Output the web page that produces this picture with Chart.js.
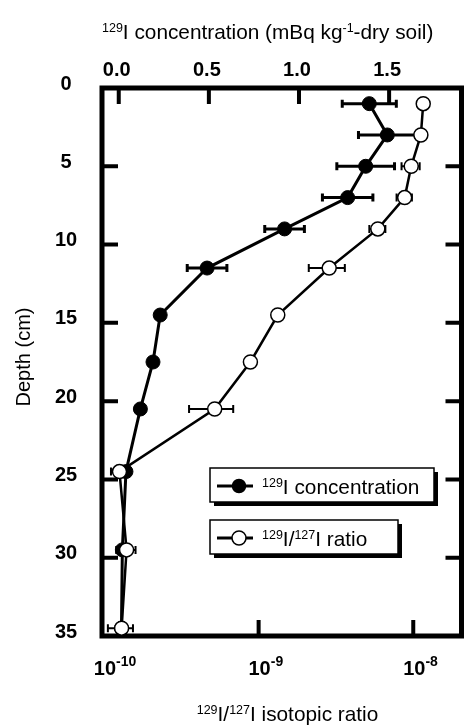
<!DOCTYPE html>
<html><head><meta charset="utf-8">
<script src="https://cdn.jsdelivr.net/npm/chart.js@4.4.0/dist/chart.umd.min.js"></script>
<style>html,body{margin:0;padding:0;background:#fff;}canvas{display:block;}</style>
</head><body>
<canvas id="c" width="470" height="725"></canvas>
<script>
// ---- data ----
const depth    = [1, 3, 5, 7, 9, 11.5, 14.5, 17.5, 20.5, 24.5, 29.5, 34.5];
const conc     = [1.39, 1.49, 1.37, 1.27, 0.92, 0.49, 0.23, 0.19, 0.12, 0.04, 0.02, 0.015];
const concErr  = [0.15, 0.16, 0.16, 0.14, 0.11, 0.11, 0.02, 0.02, 0.02, 0.02, 0.01, 0.01];
const ratio    = [1.16e-8, 1.12e-8, 9.7e-9, 8.8e-9, 5.9e-9, 2.86e-9, 1.33e-9, 8.85e-10, 5.2e-10, 1.26e-10, 1.4e-10, 1.3e-10];
const ratioErr = [0.8e-9, 0.8e-9, 1.3e-9, 1.0e-9, 0.7e-9, 0.75e-9, 0.08e-9, 0.06e-9, 1.65e-10, 0.15e-10, 0.2e-10, 0.24e-10];
const depthTicks = [0, 5, 10, 15, 20, 25, 30, 35];
const depthTickMarks = [5, 10, 15, 20, 25, 30];
const concTicks = [0, 0.5, 1.0, 1.5];
const concTickLabels = ['0.0', '0.5', '1.0', '1.5'];
const ratioTicks = [1e-10, 1e-9, 1e-8];
const ratioTickExps = ['-10', '-9', '-8'];
const topTitle = [{t:'129', sup:true}, {t:'I concentration (mBq kg'}, {t:'-1', sup:true}, {t:'-dry soil)'}];
const bottomTitle = [{t:'129', sup:true}, {t:'I/'}, {t:'127', sup:true}, {t:'I isotopic ratio'}];
const yTitle = 'Depth (cm)';
const legendConc = [{t:'129', sup:true}, {t:'I concentration'}];
const legendRatio = [{t:'129', sup:true}, {t:'I/'}, {t:'127', sup:true}, {t:'I ratio'}];

const FONT = '"Liberation Sans", Arial, sans-serif';

function drawRuns(ctx, runs, x, y, o) {
  const w8 = o.weight || 'normal';
  const mainF = `${w8} ${o.size}px ${FONT}`;
  const supF = `${w8} ${o.supSize}px ${FONT}`;
  let w = 0;
  for (const r of runs) { ctx.font = r.sup ? supF : mainF; w += ctx.measureText(r.t).width; }
  let cx = o.align === 'center' ? x - w / 2 : x;
  ctx.textAlign = 'left';
  ctx.textBaseline = 'alphabetic';
  for (const r of runs) {
    ctx.font = r.sup ? supF : mainF;
    ctx.fillText(r.t, cx, r.sup ? y - o.rise : y);
    cx += ctx.measureText(r.t).width;
  }
  return w;
}

function errBars(ctx, scale, ys, vals, errs, lw, cap) {
  ctx.save();
  ctx.strokeStyle = '#000';
  ctx.lineWidth = lw;
  ctx.lineCap = 'butt';
  for (let i = 0; i < vals.length; i++) {
    const y = ys.getPixelForValue(depth[i]);
    const x0 = scale.getPixelForValue(vals[i] - errs[i]);
    const x1 = scale.getPixelForValue(vals[i] + errs[i]);
    ctx.beginPath();
    ctx.moveTo(x0, y); ctx.lineTo(x1, y);
    ctx.moveTo(x0, y - cap); ctx.lineTo(x0, y + cap);
    ctx.moveTo(x1, y - cap); ctx.lineTo(x1, y + cap);
    ctx.stroke();
  }
  ctx.restore();
}

const framePlugin = {
  id: 'frame',
  beforeDatasetsDraw(chart) {
    const ctx = chart.ctx;
    const a = chart.chartArea;
    const xc = chart.scales.xc, xr = chart.scales.xr, ys = chart.scales.y;
    ctx.save();
    // error bars
    errBars(ctx, xc, ys, conc, concErr, 3, 4);
    errBars(ctx, xr, ys, ratio, ratioErr, 2, 4);
    // frame
    ctx.strokeStyle = '#000';
    ctx.lineWidth = 5;
    ctx.lineJoin = 'miter';
    ctx.strokeRect(a.left, a.top, a.right - a.left, a.bottom - a.top);
    // ticks
    ctx.lineWidth = 4;
    ctx.beginPath();
    const TL = 16;
    for (const v of concTicks) {
      const x = xc.getPixelForValue(v);
      ctx.moveTo(x, a.top); ctx.lineTo(x, a.top + TL);
    }
    for (const v of ratioTicks.slice(1)) {
      const x = xr.getPixelForValue(v);
      ctx.moveTo(x, a.bottom); ctx.lineTo(x, a.bottom - TL);
    }
    for (const v of depthTickMarks) {
      const y = ys.getPixelForValue(v);
      ctx.moveTo(a.left, y); ctx.lineTo(a.left + TL, y);
      ctx.moveTo(a.right, y); ctx.lineTo(a.right - TL, y);
    }
    ctx.stroke();
    // tick labels
    ctx.fillStyle = '#000';
    ctx.font = `bold 20px ${FONT}`;
    ctx.textAlign = 'center';
    ctx.textBaseline = 'alphabetic';
    concTicks.forEach((v, i) => {
      ctx.fillText(concTickLabels[i], xc.getPixelForValue(v) - 2, 76);
    });
    depthTicks.forEach(v => {
      ctx.fillText(String(v), 66, ys.getPixelForValue(v) + 1.5);
    });
    ratioTicks.forEach((v, i) => {
      const x = xr.getPixelForValue(v) + 1;
      ctx.font = `bold 20px ${FONT}`;
      ctx.textAlign = 'center';
      const w = ctx.measureText('10').width;
      ctx.fillText('10', x, 675);
      ctx.font = `bold 14px ${FONT}`;
      ctx.textAlign = 'left';
      ctx.fillText(ratioTickExps[i], x + w / 2, 666);
    });
    // titles
    drawRuns(ctx, topTitle, 102, 39, {size: 20.8, supSize: 12.5, rise: 7});
    drawRuns(ctx, bottomTitle, 287.5, 721, {size: 20.8, supSize: 12.5, rise: 7, align: 'center'});
    ctx.save();
    ctx.translate(30, 357);
    ctx.rotate(-Math.PI / 2);
    ctx.font = `20px ${FONT}`;
    ctx.textAlign = 'center';
    ctx.textBaseline = 'alphabetic';
    ctx.fillText(yTitle, 0, 0);
    ctx.restore();
    ctx.restore();
  },
  afterDatasetsDraw(chart) {
    const ctx = chart.ctx;
    ctx.save();
    const boxes = [
      {x: 210, y: 468, w: 224, h: 34, runs: legendConc, fill: '#000', r: 6.5},
      {x: 210, y: 520, w: 188, h: 34, runs: legendRatio, fill: '#fff', r: 7}
    ];
    for (const b of boxes) {
      ctx.fillStyle = '#000';
      ctx.fillRect(b.x + 4, b.y + 4, b.w, b.h);
      ctx.fillStyle = '#fff';
      ctx.fillRect(b.x, b.y, b.w, b.h);
      ctx.strokeStyle = '#000';
      ctx.lineWidth = 1.5;
      ctx.strokeRect(b.x, b.y, b.w, b.h);
      const cy = b.y + b.h / 2 + 1;
      ctx.lineWidth = 3;
      ctx.beginPath();
      ctx.moveTo(217, cy); ctx.lineTo(253, cy);
      ctx.stroke();
      ctx.beginPath();
      ctx.arc(239, cy, b.r, 0, Math.PI * 2);
      ctx.fillStyle = b.fill;
      ctx.fill();
      ctx.lineWidth = 1.5;
      ctx.stroke();
      ctx.fillStyle = '#000';
      drawRuns(ctx, b.runs, 262, cy + 8, {size: 20.8, supSize: 12.5, rise: 7});
    }
    ctx.restore();
  }
};

new Chart(document.getElementById('c').getContext('2d'), {
  type: 'scatter',
  data: {
    datasets: [
      {
        label: 'conc',
        data: depth.map((d, i) => ({x: conc[i], y: d})),
        xAxisID: 'xc', yAxisID: 'y',
        showLine: true, borderColor: '#000', borderWidth: 3,
        pointRadius: 7, pointBackgroundColor: '#000', pointBorderColor: '#000', pointBorderWidth: 1,
        order: 2, clip: false
      },
      {
        label: 'ratio',
        data: depth.map((d, i) => ({x: ratio[i], y: d})),
        xAxisID: 'xr', yAxisID: 'y',
        showLine: true, borderColor: '#000', borderWidth: 2.5,
        pointRadius: 7, pointBackgroundColor: '#fff', pointBorderColor: '#000', pointBorderWidth: 1.5,
        order: 1, clip: false
      }
    ]
  },
  options: {
    responsive: false, animation: false, devicePixelRatio: 1, events: [],
    layout: {padding: {left: 102, right: 3, top: 88, bottom: 89}},
    plugins: {legend: {display: false}, tooltip: {enabled: false}, title: {display: false}},
    scales: {
      xc: {type: 'linear', axis: 'x', position: 'top', min: -0.0929, max: 1.9016, bounds: 'data', display: false},
      xr: {type: 'logarithmic', axis: 'x', position: 'bottom', min: 9.711e-11, max: 2.0507e-8, display: false},
      y: {type: 'linear', axis: 'y', reverse: true, min: 0, max: 35, display: false}
    }
  },
  plugins: [framePlugin]
});
</script>
</body></html>
